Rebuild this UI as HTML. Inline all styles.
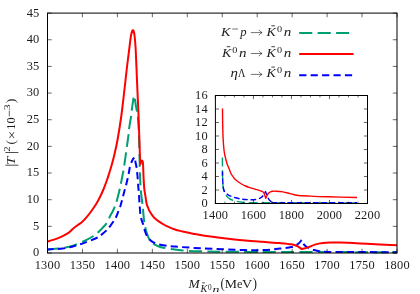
<!DOCTYPE html><html><head><meta charset="utf-8"><style>html,body{margin:0;padding:0;background:#fff}svg{display:block;will-change:transform;opacity:0.999}text{font-family:"Liberation Serif",serif;fill:#1c1c1c}</style></head><body>
<svg width="420" height="294" viewBox="0 0 420 294">
<rect width="420" height="294" fill="#fff"/>
<g fill="none" stroke-width="2" stroke-linejoin="round">
<path d="M47.50 249.50 C50.00 249.25 58.13 248.68 62.50 248.00 C66.87 247.32 69.60 246.80 73.70 245.40 C77.80 244.00 83.75 241.20 87.10 239.60 C90.45 238.00 91.82 237.15 93.80 235.80 C95.78 234.45 96.85 233.63 99.00 231.50 C101.15 229.37 104.87 225.53 106.70 223.00 C108.53 220.47 108.95 218.35 110.00 216.30 C111.05 214.25 112.18 212.38 113.00 210.70 C113.82 209.02 114.23 207.98 114.90 206.20 C115.57 204.42 116.27 202.53 117.00 200.00 C117.73 197.47 118.62 193.90 119.30 191.00 C119.98 188.10 120.40 186.07 121.10 182.60 C121.80 179.13 122.95 173.25 123.50 170.20 C124.05 167.15 123.97 167.27 124.40 164.30 C124.83 161.33 125.60 155.95 126.10 152.40 C126.60 148.85 126.98 146.07 127.40 143.00 C127.82 139.93 128.30 136.52 128.60 134.00 C128.90 131.48 128.77 130.98 129.20 127.90 C129.63 124.82 130.77 118.48 131.20 115.50 C131.63 112.52 131.40 112.98 131.80 110.00 C132.20 107.02 133.18 99.98 133.60 97.60 C134.02 95.22 134.07 95.47 134.30 95.70 C134.53 95.93 134.88 98.45 135.00 99.00 L135.00 99.00 C135.15 100.17 135.57 103.93 135.90 106.00 C136.23 108.07 136.65 109.40 137.00 111.40 C137.35 113.40 137.72 114.90 138.00 118.00 C138.28 121.10 138.50 126.00 138.70 130.00 C138.90 134.00 139.05 137.00 139.20 142.00 C139.35 147.00 139.48 154.83 139.60 160.00 C139.72 165.17 139.75 168.75 139.90 173.00 C140.05 177.25 140.33 182.43 140.50 185.50 C140.67 188.57 140.60 188.47 140.90 191.40 C141.20 194.33 141.95 200.10 142.30 203.10 C142.65 206.10 142.70 206.40 143.00 209.40 C143.30 212.40 143.70 218.00 144.10 221.10 C144.50 224.20 144.95 226.02 145.40 228.00 C145.85 229.98 146.15 231.12 146.80 233.00 C147.45 234.88 148.35 237.63 149.30 239.30 C150.25 240.97 151.38 242.02 152.50 243.00 C153.62 243.98 154.42 244.47 156.00 245.20 C157.58 245.93 158.83 246.68 162.00 247.40 C165.17 248.12 171.33 248.97 175.00 249.50 C178.67 250.03 179.83 250.30 184.00 250.60 C188.17 250.90 189.00 251.08 200.00 251.30 C211.00 251.52 217.17 251.75 250.00 251.90 C282.83 252.05 372.50 252.15 397.00 252.20" stroke="#009e73" stroke-dasharray="13.1 5.35" stroke-dashoffset="1.4"/>
<path d="M47.50 249.40 C50.00 249.25 58.13 249.03 62.50 248.50 C66.87 247.97 69.97 247.18 73.70 246.20 C77.43 245.22 80.92 244.05 84.90 242.60 C88.88 241.15 94.77 238.87 97.60 237.50 C100.43 236.13 100.47 235.55 101.90 234.40 C103.33 233.25 104.85 231.95 106.20 230.60 C107.55 229.25 108.43 228.40 110.00 226.30 C111.57 224.20 114.22 220.48 115.60 218.00 C116.98 215.52 117.53 213.28 118.30 211.40 C119.07 209.52 119.62 208.43 120.20 206.70 C120.78 204.97 121.30 202.83 121.80 201.00 C122.30 199.17 122.72 197.53 123.20 195.70 C123.68 193.87 124.22 191.78 124.70 190.00 C125.18 188.22 125.60 186.95 126.10 185.00 C126.60 183.05 127.27 180.20 127.70 178.30 C128.13 176.40 128.33 175.50 128.70 173.60 C129.07 171.70 129.52 168.58 129.90 166.90 C130.28 165.22 130.58 164.60 131.00 163.50 C131.42 162.40 131.98 161.15 132.40 160.30 C132.82 159.45 133.17 158.83 133.50 158.40 C133.83 157.97 134.25 157.82 134.40 157.70" stroke="#0000ff" stroke-dasharray="7.2 4.23" stroke-dashoffset="1.0"/>
<path d="M134.40 157.70 C134.50 157.97 134.80 158.45 135.00 159.30 C135.20 160.15 135.37 161.60 135.60 162.80 C135.83 164.00 136.18 165.13 136.40 166.50 C136.62 167.87 136.72 169.42 136.90 171.00 C137.08 172.58 137.30 173.70 137.50 176.00 C137.70 178.30 137.90 182.30 138.10 184.80 C138.30 187.30 138.53 189.07 138.70 191.00 C138.87 192.93 138.98 194.50 139.10 196.40 C139.22 198.30 139.28 200.60 139.40 202.40 C139.52 204.20 139.65 205.33 139.80 207.20 C139.95 209.07 140.07 211.70 140.30 213.60 C140.53 215.50 140.85 217.12 141.20 218.60 C141.55 220.08 142.03 221.43 142.40 222.50 C142.77 223.57 143.00 223.67 143.40 225.00 C143.80 226.33 144.25 228.75 144.80 230.50 C145.35 232.25 145.95 234.03 146.70 235.50 C147.45 236.97 148.25 238.18 149.30 239.30 C150.35 240.42 151.55 241.38 153.00 242.20 C154.45 243.02 156.00 243.65 158.00 244.20 C160.00 244.75 162.17 245.10 165.00 245.50 C167.83 245.90 168.67 246.12 175.00 246.60 C181.33 247.08 191.33 247.82 203.00 248.40 C214.67 248.98 234.67 249.83 245.00 250.10 C255.33 250.37 259.17 250.25 265.00 250.00 C270.83 249.75 275.60 249.08 280.00 248.60 C284.40 248.12 288.67 247.70 291.40 247.10 C294.13 246.50 295.05 245.75 296.40 245.00 C297.75 244.25 298.63 243.43 299.50 242.60 C300.37 241.77 301.25 240.43 301.60 240.00" stroke="#0000ff" stroke-dasharray="7.245 4.257" stroke-dashoffset="8.23"/>
<path d="M301.60 240.00 C301.87 240.58 302.47 242.42 303.20 243.50 C303.93 244.58 304.95 245.68 306.00 246.50 C307.05 247.32 308.33 247.87 309.50 248.40 C310.67 248.93 311.37 249.22 313.00 249.70 C314.63 250.18 316.47 250.93 319.30 251.30 C322.13 251.67 317.05 251.75 330.00 251.90 C342.95 252.05 385.83 252.15 397.00 252.20" stroke="#0000ff" stroke-dasharray="7.2 4.23" stroke-dashoffset="7.20"/>
<path d="M47.50 241.50 C48.42 241.23 51.03 240.55 53.00 239.90 C54.97 239.25 57.47 238.35 59.30 237.60 C61.13 236.85 62.42 236.23 64.00 235.40 C65.58 234.57 67.55 233.47 68.80 232.60 C70.05 231.73 70.67 230.98 71.50 230.20 C72.33 229.42 72.80 228.72 73.80 227.90 C74.80 227.08 76.22 226.20 77.50 225.30 C78.78 224.40 80.05 223.78 81.50 222.50 C82.95 221.22 84.67 219.35 86.20 217.60 C87.73 215.85 89.07 214.22 90.70 212.00 C92.33 209.78 94.45 206.80 96.00 204.30 C97.55 201.80 98.80 199.38 100.00 197.00 C101.20 194.62 102.03 192.83 103.20 190.00 C104.37 187.17 105.93 183.00 107.00 180.00 C108.07 177.00 108.82 174.50 109.60 172.00 C110.38 169.50 110.92 167.83 111.70 165.00 C112.48 162.17 113.33 159.17 114.30 155.00 C115.27 150.83 116.33 146.50 117.50 140.00 C118.67 133.50 120.15 124.33 121.30 116.00 C122.45 107.67 123.43 98.33 124.40 90.00 C125.37 81.67 126.25 73.17 127.10 66.00 C127.95 58.83 128.85 52.08 129.50 47.00 C130.15 41.92 130.55 38.17 131.00 35.50 C131.45 32.83 131.88 31.87 132.20 31.00 C132.52 30.13 132.67 30.30 132.90 30.30 C133.13 30.30 133.32 30.05 133.60 31.00 C133.88 31.95 134.27 33.17 134.60 36.00 C134.93 38.83 135.30 43.00 135.60 48.00 C135.90 53.00 136.10 59.00 136.40 66.00 C136.70 73.00 137.07 82.33 137.40 90.00 C137.73 97.67 138.07 103.67 138.40 112.00 C138.73 120.33 139.13 132.33 139.40 140.00 C139.67 147.67 139.85 153.95 140.00 158.00 C140.15 162.05 140.25 163.25 140.30 164.30 L140.30 164.30 C140.45 163.80 140.93 161.95 141.20 161.30 C141.47 160.65 141.65 160.38 141.90 160.40 C142.15 160.42 142.50 160.63 142.70 161.40 C142.90 162.17 143.00 163.40 143.10 165.00 C143.20 166.60 143.20 168.50 143.30 171.00 C143.40 173.50 143.53 177.00 143.70 180.00 C143.87 183.00 144.00 186.22 144.30 189.00 C144.60 191.78 145.10 194.20 145.50 196.70 C145.90 199.20 146.22 202.03 146.70 204.00 C147.18 205.97 147.92 207.28 148.40 208.50 C148.88 209.72 148.95 210.17 149.60 211.30 C150.25 212.43 151.43 214.13 152.30 215.30 C153.17 216.47 153.85 217.37 154.80 218.30 C155.75 219.23 156.38 219.78 158.00 220.90 C159.62 222.02 162.50 223.88 164.50 225.00 C166.50 226.12 168.25 226.85 170.00 227.60 C171.75 228.35 173.33 228.95 175.00 229.50 C176.67 230.05 178.50 230.52 180.00 230.90 C181.50 231.28 181.83 231.33 184.00 231.80 C186.17 232.27 189.83 233.08 193.00 233.70 C196.17 234.32 198.17 234.80 203.00 235.50 C207.83 236.20 215.00 237.08 222.00 237.90 C229.00 238.72 238.33 239.75 245.00 240.40 C251.67 241.05 256.17 241.35 262.00 241.80 C267.83 242.25 275.10 242.68 280.00 243.10 C284.90 243.52 288.55 243.82 291.40 244.30 C294.25 244.78 295.40 245.22 297.10 246.00 C298.80 246.78 300.85 248.50 301.60 249.00 L301.60 249.00 C302.00 248.92 302.83 248.82 304.00 248.50 C305.17 248.18 306.65 247.78 308.60 247.10 C310.55 246.42 313.32 245.07 315.70 244.40 C318.08 243.73 320.52 243.40 322.90 243.10 C325.28 242.80 327.15 242.68 330.00 242.60 C332.85 242.52 335.00 242.47 340.00 242.60 C345.00 242.73 353.33 243.10 360.00 243.40 C366.67 243.70 373.83 244.08 380.00 244.40 C386.17 244.72 394.17 245.15 397.00 245.30" stroke="#ff0000"/>
</g>
<g fill="none" stroke-width="1.4" stroke-linejoin="round">
<path d="M222.40 157.40 C222.42 159.50 222.45 166.23 222.50 170.00 C222.55 173.77 222.60 177.17 222.70 180.00 C222.80 182.83 222.88 185.08 223.10 187.00 C223.32 188.92 223.57 190.20 224.00 191.50 C224.43 192.80 225.03 193.82 225.70 194.80 C226.37 195.78 227.28 196.70 228.00 197.40 C228.72 198.10 228.72 198.38 230.00 199.00 C231.28 199.62 233.63 200.57 235.70 201.10 C237.77 201.63 239.18 201.93 242.40 202.20 C245.62 202.47 235.90 202.58 255.00 202.70 C274.10 202.82 340.00 202.87 357.00 202.90" stroke="#009e73" stroke-dasharray="9.0 3.8"/>
<path d="M222.40 171.50 C222.45 172.92 222.55 177.32 222.70 180.00 C222.85 182.68 222.98 185.68 223.30 187.60 C223.62 189.52 224.00 190.43 224.60 191.50 C225.20 192.57 226.00 193.27 226.90 194.00 C227.80 194.73 228.53 195.27 230.00 195.90 C231.47 196.53 233.63 197.25 235.70 197.80 C237.77 198.35 240.18 198.88 242.40 199.20 C244.62 199.52 246.78 199.65 249.00 199.70 C251.22 199.75 253.78 199.82 255.70 199.50 C257.62 199.18 259.23 198.48 260.50 197.80 C261.77 197.12 262.47 196.43 263.30 195.40 C264.13 194.37 265.13 192.23 265.50 191.60 L265.50 191.60 C265.77 192.23 266.52 194.05 267.10 195.40 C267.68 196.75 268.35 198.68 269.00 199.70 C269.65 200.72 270.28 201.07 271.00 201.50 C271.72 201.93 271.80 202.10 273.30 202.30 C274.80 202.50 266.05 202.62 280.00 202.70 C293.95 202.78 344.17 202.78 357.00 202.80" stroke="#0000ff" stroke-dasharray="5.6 2.7" stroke-dashoffset="1.5"/>
<path d="M222.50 108.40 C222.53 111.17 222.58 119.73 222.70 125.00 C222.82 130.27 222.98 135.83 223.20 140.00 C223.42 144.17 223.73 147.50 224.00 150.00 C224.27 152.50 224.48 153.42 224.80 155.00 C225.12 156.58 225.48 157.92 225.90 159.50 C226.32 161.08 226.75 162.92 227.30 164.50 C227.85 166.08 228.55 167.42 229.20 169.00 C229.85 170.58 230.40 172.50 231.20 174.00 C232.00 175.50 233.25 177.03 234.00 178.00 C234.75 178.97 234.90 179.10 235.70 179.80 C236.50 180.50 237.68 181.42 238.80 182.20 C239.92 182.98 241.28 183.87 242.40 184.50 C243.52 185.13 244.40 185.53 245.50 186.00 C246.60 186.47 247.87 186.92 249.00 187.30 C250.13 187.68 251.18 187.97 252.30 188.30 C253.42 188.63 254.67 189.00 255.70 189.30 C256.73 189.60 257.55 189.80 258.50 190.10 C259.45 190.40 260.52 190.67 261.40 191.10 C262.28 191.53 263.08 191.48 263.80 192.70 C264.52 193.92 265.38 197.45 265.70 198.40 L265.70 198.40 C265.85 198.07 266.28 197.05 266.60 196.40 C266.92 195.75 267.20 195.10 267.60 194.50 C268.00 193.90 268.52 193.25 269.00 192.80 C269.48 192.35 269.92 192.05 270.50 191.80 C271.08 191.55 271.58 191.40 272.50 191.30 C273.42 191.20 274.25 191.10 276.00 191.20 C277.75 191.30 280.67 191.50 283.00 191.90 C285.33 192.30 287.72 193.05 290.00 193.60 C292.28 194.15 293.37 194.78 296.70 195.20 C300.03 195.62 304.85 195.83 310.00 196.10 C315.15 196.37 319.77 196.57 327.60 196.80 C335.43 197.03 352.10 197.38 357.00 197.50" stroke="#ff0000"/>
</g>
<path d="M47.50 253.00v-4.20M47.50 13.10v4.20M82.45 253.00v-4.20M82.45 13.10v4.20M117.40 253.00v-4.20M117.40 13.10v4.20M152.35 253.00v-4.20M152.35 13.10v4.20M187.30 253.00v-4.20M187.30 13.10v4.20M222.25 253.00v-4.20M222.25 13.10v4.20M257.20 253.00v-4.20M257.20 13.10v4.20M292.15 253.00v-4.20M292.15 13.10v4.20M327.10 253.00v-4.20M327.10 13.10v4.20M362.05 253.00v-4.20M362.05 13.10v4.20M397.00 253.00v-4.20M397.00 13.10v4.20M47.50 253.00h4.20M397.00 253.00h-4.20M47.50 226.34h4.20M397.00 226.34h-4.20M47.50 199.69h4.20M397.00 199.69h-4.20M47.50 173.03h4.20M397.00 173.03h-4.20M47.50 146.38h4.20M397.00 146.38h-4.20M47.50 119.72h4.20M397.00 119.72h-4.20M47.50 93.07h4.20M397.00 93.07h-4.20M47.50 66.41h4.20M397.00 66.41h-4.20M47.50 39.76h4.20M397.00 39.76h-4.20M47.50 13.10h4.20M397.00 13.10h-4.20" stroke="#000" stroke-width="0.6" fill="none"/>
<rect x="47.50" y="13.10" width="349.50" height="239.90" fill="none" stroke="#000" stroke-width="1"/>
<path d="M215.40 203.50v-3.60M215.40 95.50v3.60M224.91 203.50v-1.90M224.91 95.50v1.90M234.41 203.50v-1.90M234.41 95.50v1.90M243.92 203.50v-1.90M243.92 95.50v1.90M253.43 203.50v-3.60M253.43 95.50v3.60M262.93 203.50v-1.90M262.93 95.50v1.90M272.44 203.50v-1.90M272.44 95.50v1.90M281.94 203.50v-1.90M281.94 95.50v1.90M291.45 203.50v-3.60M291.45 95.50v3.60M300.96 203.50v-1.90M300.96 95.50v1.90M310.46 203.50v-1.90M310.46 95.50v1.90M319.97 203.50v-1.90M319.97 95.50v1.90M329.48 203.50v-3.60M329.48 95.50v3.60M338.98 203.50v-1.90M338.98 95.50v1.90M348.49 203.50v-1.90M348.49 95.50v1.90M357.99 203.50v-1.90M357.99 95.50v1.90M367.50 203.50v-3.60M367.50 95.50v3.60M215.40 203.50h3.60M367.50 203.50h-3.60M215.40 190.00h3.60M367.50 190.00h-3.60M215.40 176.50h3.60M367.50 176.50h-3.60M215.40 163.00h3.60M367.50 163.00h-3.60M215.40 149.50h3.60M367.50 149.50h-3.60M215.40 136.00h3.60M367.50 136.00h-3.60M215.40 122.50h3.60M367.50 122.50h-3.60M215.40 109.00h3.60M367.50 109.00h-3.60M215.40 95.50h3.60M367.50 95.50h-3.60" stroke="#000" stroke-width="0.6" fill="none"/>
<rect x="215.40" y="95.50" width="152.10" height="108.00" fill="none" stroke="#000" stroke-width="1"/>
<g font-size="12.4" letter-spacing="0.2">
<text x="47.50" y="269" text-anchor="middle">1300</text>
<text x="82.45" y="269" text-anchor="middle">1350</text>
<text x="117.40" y="269" text-anchor="middle">1400</text>
<text x="152.35" y="269" text-anchor="middle">1450</text>
<text x="187.30" y="269" text-anchor="middle">1500</text>
<text x="222.25" y="269" text-anchor="middle">1550</text>
<text x="257.20" y="269" text-anchor="middle">1600</text>
<text x="292.15" y="269" text-anchor="middle">1650</text>
<text x="327.10" y="269" text-anchor="middle">1700</text>
<text x="362.05" y="269" text-anchor="middle">1750</text>
<text x="397.00" y="269" text-anchor="middle">1800</text>
<text x="39.5" y="256.40" text-anchor="end">0</text>
<text x="39.5" y="229.74" text-anchor="end">5</text>
<text x="39.5" y="203.09" text-anchor="end">10</text>
<text x="39.5" y="176.43" text-anchor="end">15</text>
<text x="39.5" y="149.78" text-anchor="end">20</text>
<text x="39.5" y="123.12" text-anchor="end">25</text>
<text x="39.5" y="96.47" text-anchor="end">30</text>
<text x="39.5" y="69.81" text-anchor="end">35</text>
<text x="39.5" y="43.16" text-anchor="end">40</text>
<text x="39.5" y="16.50" text-anchor="end">45</text>
<text x="215.40" y="219.4" text-anchor="middle">1400</text>
<text x="253.43" y="219.4" text-anchor="middle">1600</text>
<text x="291.45" y="219.4" text-anchor="middle">1800</text>
<text x="329.48" y="219.4" text-anchor="middle">2000</text>
<text x="367.50" y="219.4" text-anchor="middle">2200</text>
<text x="207.8" y="207.30" text-anchor="end">0</text>
<text x="207.8" y="193.80" text-anchor="end">2</text>
<text x="207.8" y="180.30" text-anchor="end">4</text>
<text x="207.8" y="166.80" text-anchor="end">6</text>
<text x="207.8" y="153.30" text-anchor="end">8</text>
<text x="207.8" y="139.80" text-anchor="end">10</text>
<text x="207.8" y="126.30" text-anchor="end">12</text>
<text x="207.8" y="112.80" text-anchor="end">14</text>
<text x="207.8" y="99.30" text-anchor="end">16</text>
</g>
<g fill="none" stroke-width="2">
<path d="M299.2 33.0H349.5" stroke="#009e73" stroke-dasharray="13.1 5.35"/>
<path d="M299.2 54.05H353.6" stroke="#ff0000"/>
<path d="M299.2 75.2H353" stroke="#0000ff" stroke-dasharray="7.2 4.23"/>
</g>
<g>
<text transform="translate(220.88 35.70) scale(1.096 1)" font-size="13" font-style="italic">K</text>
<path d="M232.3 29.00h5.7" stroke="#000" stroke-width="0.55"/>
<text transform="translate(240.16 35.70) scale(1.090 1)" font-size="11.6" font-style="italic">p</text>
<path d="M250.80 32.60h11M258.80 29.90q1.6 2.0 3.3 2.7q-1.7 0.7 -3.3 2.7" stroke="#000" stroke-width="0.55" fill="none"/>
<text transform="translate(266.58 35.70) scale(1.075 1)" font-size="13" font-style="italic">K</text><path d="M271.40 25.80h3.5" stroke="#000" stroke-width="0.75"/><text transform="translate(276.89 32.10) scale(1.218 1)" font-size="8.4">0</text><text transform="translate(283.75 35.70) scale(1.303 1)" font-size="11.6" font-style="italic">n</text>
<text transform="translate(221.88 56.60) scale(1.075 1)" font-size="13" font-style="italic">K</text><path d="M226.70 46.70h3.5" stroke="#000" stroke-width="0.75"/><text transform="translate(232.19 53.00) scale(1.218 1)" font-size="8.4">0</text><text transform="translate(239.05 56.60) scale(1.303 1)" font-size="11.6" font-style="italic">n</text>
<path d="M250.80 53.50h11M258.80 50.80q1.6 2.0 3.3 2.7q-1.7 0.7 -3.3 2.7" stroke="#000" stroke-width="0.55" fill="none"/>
<text transform="translate(266.58 56.60) scale(1.075 1)" font-size="13" font-style="italic">K</text><path d="M271.40 46.70h3.5" stroke="#000" stroke-width="0.75"/><text transform="translate(276.89 53.00) scale(1.218 1)" font-size="8.4">0</text><text transform="translate(283.75 56.60) scale(1.303 1)" font-size="11.6" font-style="italic">n</text>
<text transform="translate(230.55 77.00) scale(1.283 1)" font-size="11.6" font-style="italic">η</text>
<text transform="translate(237.90 77.00) scale(0.829 1)" font-size="12.4">Λ</text>
<path d="M250.80 74.40h11M258.80 71.70q1.6 2.0 3.3 2.7q-1.7 0.7 -3.3 2.7" stroke="#000" stroke-width="0.55" fill="none"/>
<text transform="translate(266.58 77.00) scale(1.075 1)" font-size="13" font-style="italic">K</text><path d="M271.40 67.10h3.5" stroke="#000" stroke-width="0.75"/><text transform="translate(276.89 73.40) scale(1.218 1)" font-size="8.4">0</text><text transform="translate(283.75 77.00) scale(1.303 1)" font-size="11.6" font-style="italic">n</text>
</g>
<text transform="translate(188.47 287.70) scale(1.019 1)" font-size="13.2" font-style="italic">M</text>
<text transform="translate(200.40 291.60) scale(1.045 1)" font-size="9.7" font-style="italic">K</text>
<path d="M202.2 282.80h2.7" stroke="#000" stroke-width="0.7"/>
<text transform="translate(208.08 289.70) scale(0.909 1)" font-size="8">0</text>
<text transform="translate(212.58 291.60) scale(1.550 1)" font-size="9" font-style="italic">n</text>
<text transform="translate(220.40 287.70) scale(0.926 1)" font-size="13.6">(</text>
<text transform="translate(224.82 287.70) scale(1.062 1)" font-size="13">M</text>
<text transform="translate(237.03 287.70) scale(1.014 1)" font-size="12.2">e</text>
<text transform="translate(241.96 287.70) scale(1.083 1)" font-size="13">V</text>
<text transform="translate(252.72 287.70) scale(0.933 1)" font-size="13.6">)</text>
<g transform="translate(15.3 166) rotate(-90)">
<path d="M0.8 3.1V-9.9M13.5 3.1V-9.9" stroke="#000" stroke-width="0.7"/>
<text transform="translate(0.90 0.00) scale(1.230 1)" font-size="12.2" font-style="italic">T</text>
<text transform="translate(14.17 -5.60) scale(1.309 1)" font-size="8.2">2</text>
<text transform="translate(21.48 0.00) scale(1.029 1)" font-size="12.6">(</text>
<text transform="translate(26.50 0.80) scale(1.173 1)" font-size="13.4">×</text>
<text transform="translate(36.39 0.00) scale(0.918 1)" font-size="12.4">1</text>
<text transform="translate(42.43 0.00) scale(0.990 1)" font-size="12.4">0</text>
<path d="M49.6 -6.0h5.7" stroke="#000" stroke-width="0.6"/>
<text transform="translate(55.95 -5.10) scale(1.361 1)" font-size="8.2">3</text>
<text transform="translate(62.78 0.00) scale(1.099 1)" font-size="12.6">)</text>
</g>
</svg></body></html>
